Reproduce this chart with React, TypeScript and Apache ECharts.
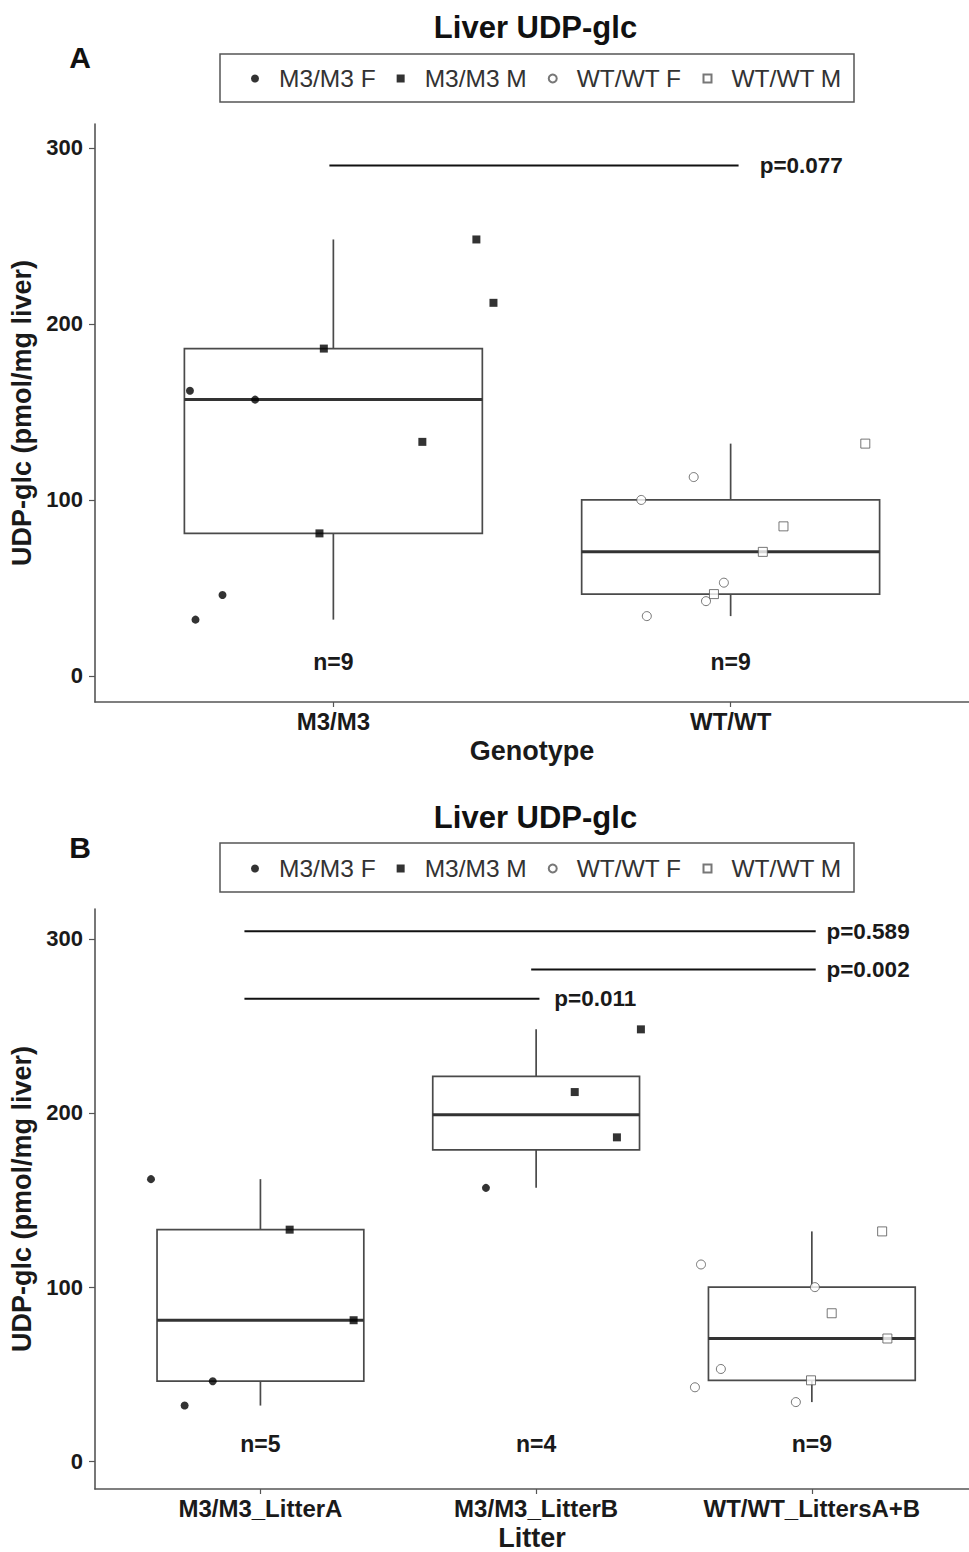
import React, { useEffect, useRef } from "react";
import * as echarts from "echarts";

const FONT = "'Liberation Sans', Arial, Helvetica, sans-serif";

const groupNames = ["M3/M3 F", "M3/M3 M", "WT/WT F", "WT/WT M"];
const chartTitle = "Liver UDP-glc";
const yTitle = "UDP-glc (pmol/mg liver)";
const yTicks = [0, 100, 200, 300];

// ---------- Panel A (by genotype) ----------
const genotypeCats = ["M3/M3", "WT/WT"];
const aM3F = [162, 157, 46, 32];
const aM3FJitter = [-0.361, -0.197, -0.279, -0.347];
const aM3M = [186, 81, 133, 248, 212];
const aM3MJitter = [-0.024, -0.035, 0.224, 0.36, 0.403];
const aWTF = [113, 100, 53, 42.5, 34];
const aWTFJitter = [-0.093, -0.225, -0.017, -0.062, -0.211];
const aWTM = [132, 85, 70.5, 46.5];
const aWTMJitter = [0.339, 0.133, 0.081, -0.042];
const aPLabels = ["p=0.077"];
const aPFrom = [0.99];
const aPTo = [2.02];
const aPY = [290];
const aPTextX = [2.073];
const aNY = 8;

// ---------- Panel B (by litter) ----------
const litterCats = ["M3/M3_LitterA", "M3/M3_LitterB", "WT/WT_LittersA+B"];
const bLitAF = [162, 46, 32];
const bLitAFJitter = [-0.397, -0.173, -0.275];
const bLitAM = [133, 81];
const bLitAMJitter = [0.106, 0.338];
const bLitBF = [157];
const bLitBFJitter = [-0.182];
const bLitBM = [248, 212, 186];
const bLitBMJitter = [0.38, 0.14, 0.293];
const bWTF = [113, 53, 42.5, 34, 100];
const bWTFJitter = [-0.402, -0.33, -0.424, -0.058, 0.011];
const bWTM = [132, 85, 70.5, 46.5];
const bWTMJitter = [0.255, 0.072, 0.274, -0.003];
const bPLabels = ["p=0.589", "p=0.002", "p=0.011"];
const bPFrom = [0.942, 1.982, 0.942];
const bPTo = [3.014, 3.014, 2.012];
const bPY = [304.3, 282.4, 265.5];
const bPTextX = [3.053, 3.053, 2.066];
const bNY = 9.7;

function pts(cat: number, vals: number[], jit: number[]) {
  return vals.map((v, i) => [cat + jit[i], v]);
}

function quantile(sorted: number[], p: number) {
  const h = (sorted.length - 1) * p;
  const lo = Math.floor(h);
  const hi = Math.min(lo + 1, sorted.length - 1);
  return sorted[lo] + (h - lo) * (sorted[hi] - sorted[lo]);
}

function boxStats(cat: number, vals: number[]) {
  const s = [...vals].sort((a, b) => a - b);
  const q1 = quantile(s, 0.25);
  const med = quantile(s, 0.5);
  const q3 = quantile(s, 0.75);
  const iqr = q3 - q1;
  const lo = Math.min(...s.filter((v) => v >= q1 - 1.5 * iqr));
  const hi = Math.max(...s.filter((v) => v <= q3 + 1.5 * iqr));
  return [cat, lo, q1, med, q3, hi];
}

const SQUARE = "path://M0,0L10,0L10,10L0,10Z";

const markerStyles = [
  { symbol: "circle", symbolSize: 8, itemStyle: { color: "#000", borderColor: "#000", borderWidth: 0 } },
  { symbol: "rect", symbolSize: 8, itemStyle: { color: "#000", borderColor: "#000", borderWidth: 0 } },
  { symbol: "circle", symbolSize: 9, itemStyle: { color: "#fff", borderColor: "#555", borderWidth: 1 } },
  { symbol: "rect", symbolSize: 9, itemStyle: { color: "#fff", borderColor: "#555", borderWidth: 1 } },
];

function renderBox(params: any, api: any) {
  const cat = api.value(0);
  const lo = api.value(1);
  const q1 = api.value(2);
  const med = api.value(3);
  const q3 = api.value(4);
  const hi = api.value(5);
  const hw = 0.375;
  const tl = api.coord([cat - hw, q3]);
  const br = api.coord([cat + hw, q1]);
  const ml = api.coord([cat - hw, med]);
  const mr = api.coord([cat + hw, med]);
  const pHi = api.coord([cat, hi]);
  const pQ3 = api.coord([cat, q3]);
  const pQ1 = api.coord([cat, q1]);
  const pLo = api.coord([cat, lo]);
  const ws = { stroke: "#4a4a4a", lineWidth: 1.7 };
  return {
    type: "group",
    children: [
      { type: "line", shape: { x1: pHi[0], y1: pHi[1], x2: pQ3[0], y2: pQ3[1] }, style: ws },
      { type: "line", shape: { x1: pQ1[0], y1: pQ1[1], x2: pLo[0], y2: pLo[1] }, style: ws },
      {
        type: "rect",
        shape: { x: tl[0], y: tl[1], width: br[0] - tl[0], height: br[1] - tl[1] },
        style: { fill: "rgba(255,255,255,0)", stroke: "#4a4a4a", lineWidth: 1.7 },
      },
      { type: "line", shape: { x1: ml[0], y1: ml[1], x2: mr[0], y2: mr[1] }, style: { stroke: "#333", lineWidth: 3 } },
    ],
  };
}

function textSeries(idx: number, name: string, data: number[][], labels: string[], align: string, size: number) {
  return {
    type: "custom",
    name,
    xAxisIndex: idx,
    yAxisIndex: idx,
    encode: { x: 0, y: 1 },
    data,
    silent: true,
    z: 6,
    renderItem: (params: any, api: any) => {
      const p = api.coord([api.value(0), api.value(1)]);
      return {
        type: "text",
        x: p[0],
        y: p[1],
        style: {
          text: labels[params.dataIndex],
          fontFamily: FONT,
          fontWeight: "bold",
          fontSize: size,
          fill: "#1a1a1a",
          align,
          verticalAlign: "middle",
        },
      };
    },
  };
}

function panelSeries(
  idx: number,
  groups: number[][][],
  boxes: number[][],
  counts: number[],
  nY: number,
  pLabels: string[],
  pFrom: number[],
  pTo: number[],
  pY: number[],
  pTextX: number[]
) {
  const s: any[] = [];
  s.push({
    type: "custom",
    name: "box" + idx,
    xAxisIndex: idx,
    yAxisIndex: idx,
    renderItem: renderBox,
    encode: { x: 0, y: [1, 2, 3, 4, 5] },
    data: boxes,
    z: 1,
    silent: true,
  });
  groups.forEach((g, gi) => {
    s.push({
      type: "scatter",
      name: groupNames[gi],
      xAxisIndex: idx,
      yAxisIndex: idx,
      data: g,
      z: 5,
      ...markerStyles[gi],
    });
  });
  pLabels.forEach((lab, i) => {
    s.push({
      type: "line",
      name: "sig" + idx + "_" + i,
      xAxisIndex: idx,
      yAxisIndex: idx,
      data: [
        [pFrom[i], pY[i]],
        [pTo[i], pY[i]],
      ],
      symbol: "none",
      lineStyle: { color: "#111", width: 2 },
      silent: true,
      z: 3,
    });
  });
  s.push(
    textSeries(
      idx,
      "plab" + idx,
      pLabels.map((_, i) => [pTextX[i], pY[i]]),
      pLabels,
      "left",
      22.5
    )
  );
  s.push(
    textSeries(
      idx,
      "nlab" + idx,
      counts.map((_, i) => [i + 1, nY]),
      counts.map((c) => "n=" + c),
      "center",
      23
    )
  );
  return s;
}

function xAxisFor(idx: number, cats: string[], max: number, name: string) {
  const vals = cats.map((_, i) => i + 1);
  return {
    type: "value",
    gridIndex: idx,
    min: 0.4,
    max,
    name,
    nameLocation: "middle",
    nameGap: 35,
    nameTextStyle: { fontFamily: FONT, fontWeight: "bold", fontSize: 27, color: "#1a1a1a" },
    axisLine: { show: true, onZero: false, lineStyle: { color: "#555", width: 1.6 } },
    axisTick: { show: true, customValues: vals, length: 5, lineStyle: { color: "#555", width: 1.2 } },
    axisLabel: {
      show: true,
      customValues: vals,
      formatter: (v: number) => cats[Math.round(v) - 1] ?? "",
      margin: 7,
      fontFamily: FONT,
      fontWeight: "bold",
      fontSize: 24,
      color: "#1a1a1a",
    },
    splitLine: { show: false },
  };
}

function yAxisFor(idx: number, min: number, max: number) {
  return {
    type: "value",
    gridIndex: idx,
    min,
    max,
    name: yTitle,
    nameLocation: "middle",
    nameGap: 48,
    nameRotate: 90,
    nameTextStyle: { fontFamily: FONT, fontWeight: "bold", fontSize: 27, color: "#1a1a1a" },
    axisLine: { show: true, onZero: false, lineStyle: { color: "#555", width: 1.6 } },
    axisTick: { show: true, customValues: yTicks, length: 6, lineStyle: { color: "#555", width: 1.2 } },
    axisLabel: {
      show: true,
      customValues: yTicks,
      margin: 12,
      fontFamily: FONT,
      fontWeight: "bold",
      fontSize: 22,
      color: "#1a1a1a",
    },
    splitLine: { show: false },
  };
}

export default function App() {
  const ref = useRef<HTMLDivElement>(null);
  useEffect(() => {
    document.body.style.margin = "0";
    if (!ref.current) return;
    const chart = echarts.init(ref.current, undefined, { renderer: "svg" });

    const groupsA = [
      pts(1, aM3F, aM3FJitter),
      pts(1, aM3M, aM3MJitter),
      pts(2, aWTF, aWTFJitter),
      pts(2, aWTM, aWTMJitter),
    ];
    const boxesA = [boxStats(1, [...aM3F, ...aM3M]), boxStats(2, [...aWTF, ...aWTM])];
    const countsA = [aM3F.length + aM3M.length, aWTF.length + aWTM.length];

    const groupsB = [
      [...pts(1, bLitAF, bLitAFJitter), ...pts(2, bLitBF, bLitBFJitter)],
      [...pts(1, bLitAM, bLitAMJitter), ...pts(2, bLitBM, bLitBMJitter)],
      pts(3, bWTF, bWTFJitter),
      pts(3, bWTM, bWTMJitter),
    ];
    const boxesB = [
      boxStats(1, [...bLitAF, ...bLitAM]),
      boxStats(2, [...bLitBF, ...bLitBM]),
      boxStats(3, [...bWTF, ...bWTM]),
    ];
    const countsB = [
      bLitAF.length + bLitAM.length,
      bLitBF.length + bLitBM.length,
      bWTF.length + bWTM.length,
    ];

    const legendIcons = ["circle", SQUARE, "circle", SQUARE];
    const legendCommon = {
      data: groupNames.map((n, i) => ({ name: n, icon: legendIcons[i] })),
      orient: "horizontal",
      left: 251,
      padding: 0,
      itemWidth: 38,
      itemHeight: 8,
      itemGap: 21,
      symbolKeepAspect: true,
      selectedMode: false,
      textStyle: { fontFamily: FONT, fontSize: 24.5, color: "#333" },
    };

    const titleText = (x: number, y: number, text: string, size: number) => ({
      type: "text",
      x,
      y,
      silent: true,
      style: {
        text,
        fontFamily: FONT,
        fontWeight: "bold",
        fontSize: size,
        fill: "#111",
        align: "center",
        verticalAlign: "middle",
      },
    });

    const option: any = {
      animation: false,
      backgroundColor: "#fff",
      grid: [
        { left: 95, top: 124, right: 0, height: 578, containLabel: false },
        { left: 95, top: 909, right: 0, height: 585, containLabel: false },
      ],
      xAxis: [xAxisFor(0, genotypeCats, 2.6, "Genotype"), xAxisFor(1, litterCats, 3.57, "Litter")],
      yAxis: [yAxisFor(0, -14.8, 313.6), yAxisFor(1, -15.9, 317.1)],
      legend: [
        { ...legendCommon, top: 66 },
        { ...legendCommon, top: 856 },
      ],
      graphic: [
        titleText(535.5, 27, chartTitle, 31),
        titleText(535.5, 817, chartTitle, 31),
        titleText(80, 57, "A", 30),
        titleText(80, 847, "B", 30),
        {
          type: "rect",
          silent: true,
          shape: { x: 220, y: 54, width: 634, height: 48 },
          style: { fill: "none", stroke: "#555", lineWidth: 1.5 },
        },
        {
          type: "rect",
          silent: true,
          shape: { x: 220, y: 843, width: 634, height: 49 },
          style: { fill: "none", stroke: "#555", lineWidth: 1.5 },
        },
      ],
      series: [
        ...panelSeries(0, groupsA, boxesA, countsA, aNY, aPLabels, aPFrom, aPTo, aPY, aPTextX),
        ...panelSeries(1, groupsB, boxesB, countsB, bNY, bPLabels, bPFrom, bPTo, bPY, bPTextX),
      ],
    };
    chart.setOption(option);
    return () => chart.dispose();
  }, []);
  return <div ref={ref} style={{ width: 969, height: 1552 }} />;
}
